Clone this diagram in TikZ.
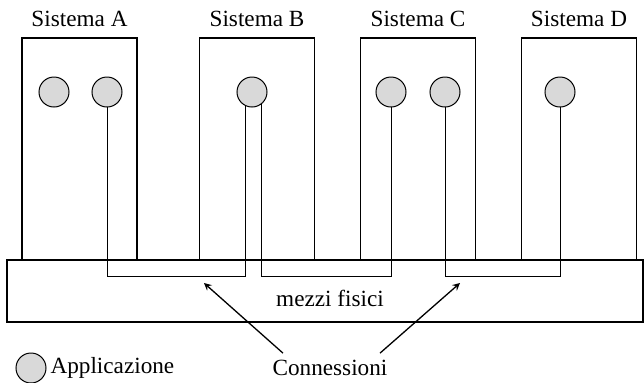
\documentclass[tikz,border=0pt]{standalone}
\usepackage{fontspec}
\setmainfont{Liberation Serif}
\usetikzlibrary{positioning,backgrounds}
\tikzset{sys node/.style={draw,line width=0.6pt,minimum width=57.5pt,minimum height=111pt,inner sep=0pt},
         app node/.style={circle,draw,fill=gray!30,line width=0.5pt,minimum size=15pt,inner sep=0pt},
         conn line/.style={line width=0.4pt},
            }

\begin{document}
\begin{tikzpicture}[x=0.5pt,y=-0.5pt,font=\fontsize{11.6}{14}\selectfont]
    \useasboundingbox (0,0) rectangle (644,382);

    \node[sys node] (A) at (79.5,149) {};
    \node[sys node] (B) at (257,149) {};
    \node[sys node] (C) at (418,149) {};
    \node[sys node] (D) at (579,149) {};
    \node[above = 2pt of A] {Sistema A};
    \node[above = 2pt of B] {Sistema B};
    \node[above = 2pt of C] {Sistema C};
    \node[above = 2pt of D] {Sistema D};

    \node[draw,line width=0.6pt,minimum width=318pt,minimum height=31pt,inner sep=0pt] (mezzi) at (325,291) {};
    \node at (330,298) {mezzi fisici};

    \node[app node] (a1) at (54,92) {};
    \node[app node] (a2) at (107,92) {};
    \node[app node] (b1) at (252,92) {};
    \node[app node] (c1) at (391,92) {};
    \node[app node] (c2) at (445,92) {};
    \node[app node] (d1) at (560,92) {};

    \begin{scope}[on background layer]
    \draw[conn line] (a2.center) -- ++(0,184) -| ([xshift=-3.5pt]b1.center);
    \draw[conn line] ([xshift=4.5pt]b1.center) -- ++(0,184) -| (c1.center);
    \draw[conn line] (c2.center) -- ++(0,184) -| (d1.center);
    \end{scope}

    \node[app node] (legend) at (31,368) {};
    \node[right = -1.5pt of legend] {Applicazione};
    \node (conn) at (330,368) {Connessioni};

    \coordinate (h1) at (204,283);
    \coordinate (h2) at (460,283);
    \draw[-stealth,line width=0.65pt] ([xshift=-23.5pt]conn.north) -- (h1);
    \draw[-stealth,line width=0.65pt] ([xshift=25pt]conn.north) -- (h2);
\end{tikzpicture}
\end{document}
